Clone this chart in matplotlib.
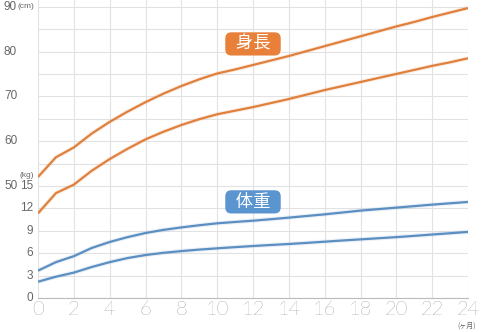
import matplotlib
matplotlib.use("Agg")
import matplotlib.pyplot as plt
import matplotlib.transforms as mtransforms

months = list(range(25))

# 身長 (cm)
height_hi = [52.0, 56.4, 58.6, 61.7, 64.3, 66.6, 68.7, 70.6, 72.3, 73.8, 75.1, 76.0,
             77.0, 78.0, 79.0, 80.1, 81.2, 82.3, 83.4, 84.5, 85.6, 86.6, 87.7, 88.7, 89.7]
height_lo = [43.9, 48.4, 50.3, 53.4, 56.0, 58.3, 60.4, 62.1, 63.6, 64.9, 66.0, 66.8,
             67.6, 68.5, 69.4, 70.4, 71.4, 72.3, 73.2, 74.1, 75.0, 75.9, 76.8, 77.6, 78.5]

# 体重 (kg)
weight_hi = [3.66, 4.8, 5.6, 6.7, 7.5, 8.15, 8.7, 9.12, 9.45, 9.74, 10.0, 10.18,
             10.35, 10.55, 10.76, 10.98, 11.2, 11.45, 11.7, 11.9, 12.1, 12.3, 12.5, 12.68, 12.86]
weight_lo = [2.18, 2.85, 3.4, 4.15, 4.8, 5.35, 5.75, 6.05, 6.28, 6.48, 6.65, 6.81,
             6.96, 7.1, 7.23, 7.38, 7.54, 7.7, 7.85, 8.0, 8.15, 8.32, 8.5, 8.67, 8.85]

x_ticks = list(range(0, 25, 2))
cm_ticks = [50, 60, 70, 80]
kg_ticks = [0, 3, 6, 9, 12, 15]

CM0, CM_STEP = 25, 5     # one grid row = 5 cm
KG_STEP = 3              # one grid row = 3 kg

orange = '#e0803c'
blue = '#5b8fc2'
grey = '#666666'
jp = ['Noto Sans CJK JP', 'DejaVu Sans']
num = 'Liberation Sans'

fig = plt.figure(figsize=(4.82, 3.32), dpi=100)
ax = fig.add_axes([38 / 482, 34 / 332, 430 / 482, 298 / 332])

def cm(v):
    return [(h - CM0) / CM_STEP for h in v]

def kg(v):
    return [w / KG_STEP for w in v]

for ys, c in [(cm(height_hi), orange), (cm(height_lo), orange),
              (kg(weight_hi), blue), (kg(weight_lo), blue)]:
    ax.plot(months, ys, color=c, lw=3.2, alpha=0.12, solid_capstyle='butt')
    ax.plot(months, ys, color=c, lw=1.6, solid_capstyle='butt')

ax.set_xlim(0, 24)
ax.set_ylim(0, 13.3)
ax.set_xticks(x_ticks)
ax.set_yticks(range(14))
ax.grid(True, color='#e2e2e2', lw=0.8)
ax.set_axisbelow(True)
for s in ['top', 'right', 'left']:
    ax.spines[s].set_visible(False)
ax.spines['bottom'].set_color('#bbbbbb')
ax.tick_params(length=0, labelleft=False, pad=2)
ax.set_xticklabels([str(t) for t in x_ticks], fontsize=14.5, color='#5a5a5a',
                   family='Lato', fontweight='light')

tr = mtransforms.blended_transform_factory(fig.transFigure, ax.transData)
for h in cm_ticks:
    ax.text(4 / 482, (h - CM0) / CM_STEP, str(h), transform=tr, fontsize=8.5,
            color=grey, ha='left', va='center', family=num)
ax.text(4 / 482, (90 - CM0) / CM_STEP, '90', transform=tr, fontsize=8.5,
        color=grey, ha='left', va='center', family=num)
ax.text(17.5 / 482, (90 - CM0) / CM_STEP + 0.02, '(cm)', transform=tr, fontsize=6,
        color=grey, ha='left', va='center', family=num)
for w in kg_ticks:
    ax.text(33 / 482, w / KG_STEP, str(w), transform=tr, fontsize=8.5,
            color=grey, ha='right', va='center', family=num)
ax.text(20 / 482, 5.45, '(kg)', transform=tr, fontsize=6, color=grey,
        ha='left', va='center', family=num)
fig.text(467 / 482, 6 / 332, '(ヶ月)', fontsize=5, color=grey, ha='center',
         va='center', family=jp)

ax.text(12, 11.34, '  身長  ', fontsize=12.5, color='white', ha='center', va='center',
        family=jp, bbox=dict(boxstyle='round,pad=0.15,rounding_size=0.35',
                             fc='#e8803a', ec='none'))
ax.text(12, 4.29, '  体重  ', fontsize=12.5, color='white', ha='center', va='center',
        family=jp, bbox=dict(boxstyle='round,pad=0.15,rounding_size=0.35',
                             fc='#5b95d0', ec='none'))

fig.savefig('out.png', dpi=100)
